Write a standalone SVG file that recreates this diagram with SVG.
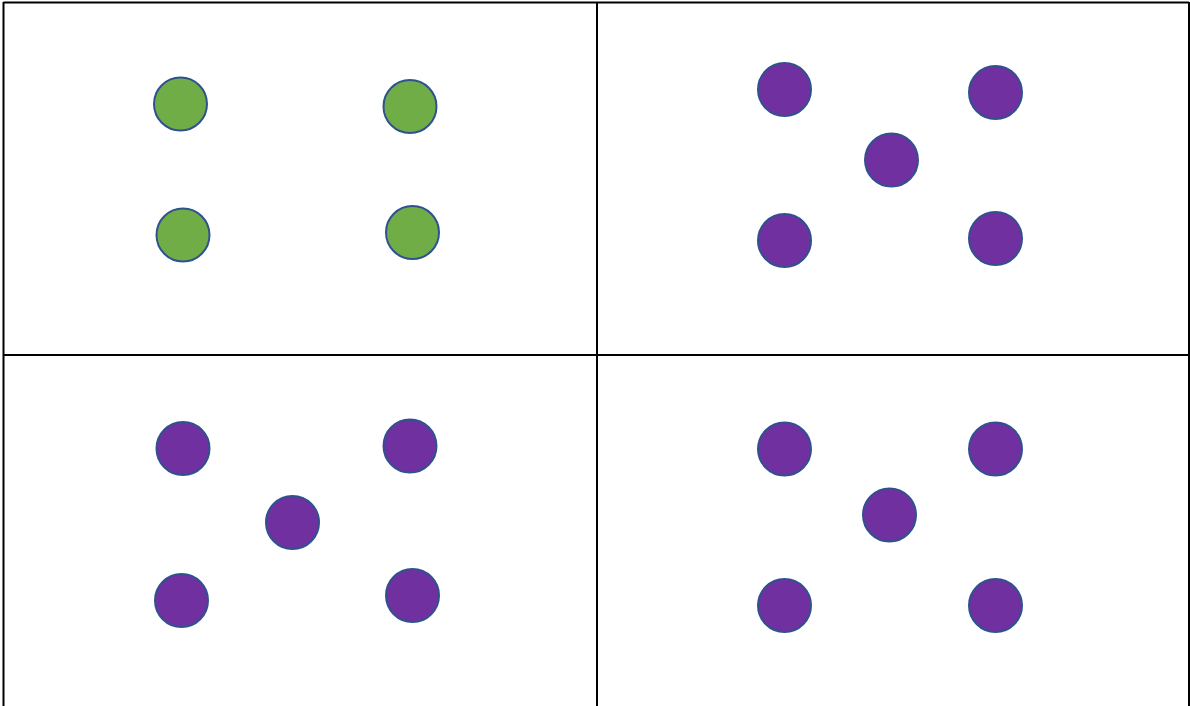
<svg xmlns="http://www.w3.org/2000/svg" width="1190" height="706" viewBox="0 0 1190 706">
<style>
.grid{fill:none;stroke:#000;stroke-width:2}
.g{fill:#70AD47;stroke:#2F528F;stroke-width:2}
.p{fill:#7030A0;stroke:#2F528F;stroke-width:2}
</style>
<rect width="1190" height="706" fill="#fff"/>
<g id="grid">
<line class="grid" x1="3.5" y1="2.5" x2="1189" y2="2.5"/>
<line class="grid" x1="3.5" y1="2" x2="3.5" y2="706"/>
<line class="grid" x1="1189" y1="2" x2="1189" y2="706"/>
<line class="grid" x1="597" y1="2" x2="597" y2="706"/>
<line class="grid" x1="3" y1="355" x2="1189" y2="355"/>
</g>
<g id="q1">
<circle class="g" cx="180.5" cy="104" r="26.5"/>
<circle class="g" cx="410" cy="106.5" r="26.5"/>
<circle class="g" cx="183" cy="235" r="26.5"/>
<circle class="g" cx="412.5" cy="232.5" r="26.5"/>
</g>
<g id="q2">
<circle class="p" cx="784.5" cy="89.5" r="26.5"/>
<circle class="p" cx="995.5" cy="92.5" r="26.5"/>
<circle class="p" cx="891.5" cy="160" r="26.5"/>
<circle class="p" cx="784.5" cy="240.5" r="26.5"/>
<circle class="p" cx="995.5" cy="238.5" r="26.5"/>
</g>
<g id="q3">
<circle class="p" cx="183" cy="448.5" r="26.5"/>
<circle class="p" cx="410" cy="446" r="26.5"/>
<circle class="p" cx="292.5" cy="522.5" r="26.5"/>
<circle class="p" cx="181.5" cy="600.5" r="26.5"/>
<circle class="p" cx="412.5" cy="595.5" r="26.5"/>
</g>
<g id="q4">
<circle class="p" cx="784.5" cy="449" r="26.5"/>
<circle class="p" cx="995.5" cy="449" r="26.5"/>
<circle class="p" cx="889.5" cy="515" r="26.5"/>
<circle class="p" cx="784.5" cy="605.5" r="26.5"/>
<circle class="p" cx="995.5" cy="605.5" r="26.5"/>
</g>
</svg>
